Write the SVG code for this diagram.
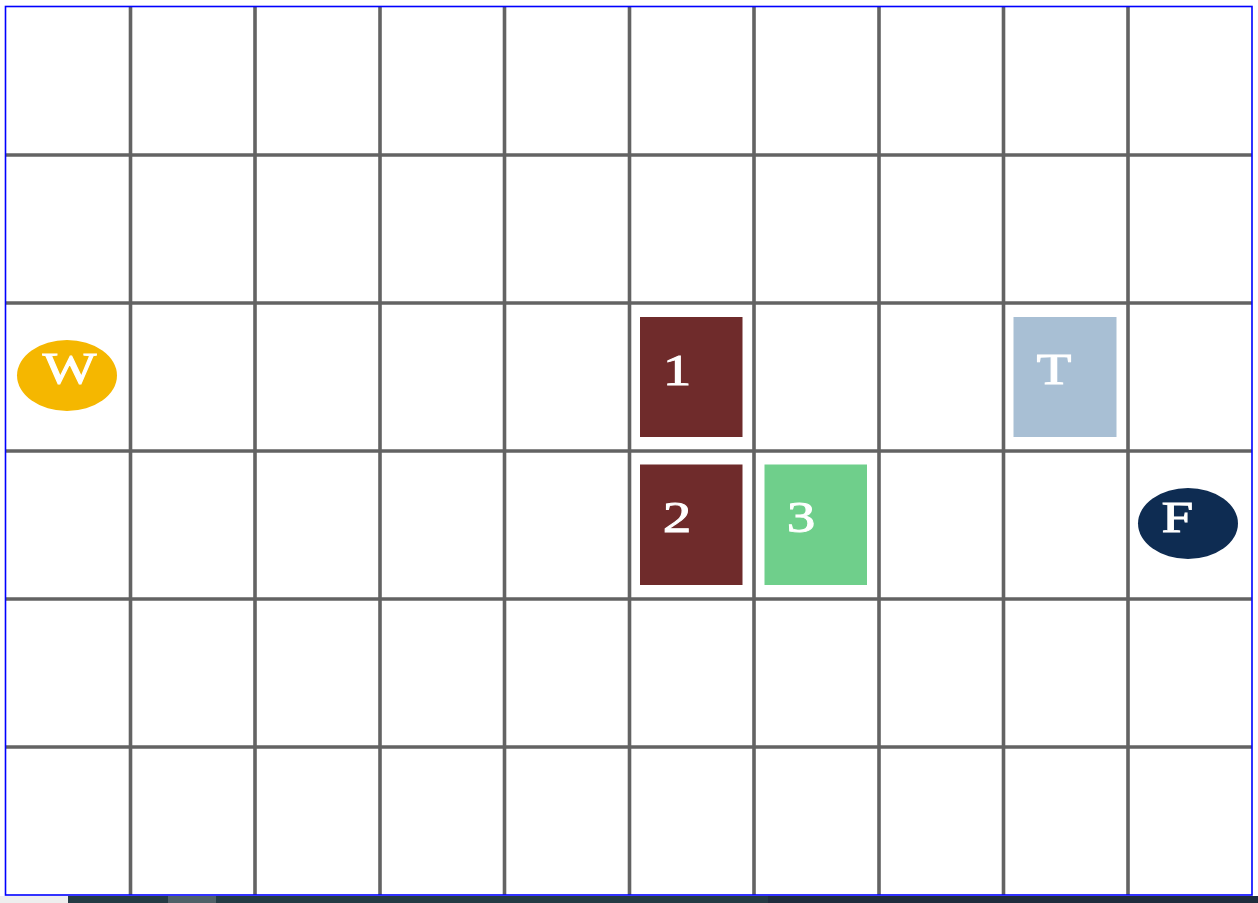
<svg xmlns="http://www.w3.org/2000/svg" width="1258" height="903" viewBox="0 0 1258 903">
<style>
.grid line{stroke:#636363;stroke-width:3.6}
.lbl{font-family:"Liberation Serif","Times New Roman",serif;font-size:44px;fill:#ffffff;stroke:#ffffff;stroke-width:0.9;text-anchor:middle}
.dark{fill:#6f2b2b}
</style>
<rect x="0" y="0" width="1258" height="903" fill="#ffffff"/>
<g id="grid" class="grid">
<line x1="130.5" y1="6" x2="130.5" y2="895"/>
<line x1="255" y1="6" x2="255" y2="895"/>
<line x1="380" y1="6" x2="380" y2="895"/>
<line x1="504.5" y1="6" x2="504.5" y2="895"/>
<line x1="629.5" y1="6" x2="629.5" y2="895"/>
<line x1="754" y1="6" x2="754" y2="895"/>
<line x1="879" y1="6" x2="879" y2="895"/>
<line x1="1003.5" y1="6" x2="1003.5" y2="895"/>
<line x1="1128" y1="6" x2="1128" y2="895"/>
<line x1="6" y1="155" x2="1252" y2="155"/>
<line x1="6" y1="303" x2="1252" y2="303"/>
<line x1="6" y1="451" x2="1252" y2="451"/>
<line x1="6" y1="599" x2="1252" y2="599"/>
<line x1="6" y1="747" x2="1252" y2="747"/>
</g>
<rect x="5.5" y="6.5" width="1246.5" height="888.5" fill="none" stroke="#0000ff" stroke-width="1.6"/>
<g id="node-W">
<ellipse cx="67" cy="375.5" rx="50" ry="35.5" fill="#f5b700"/>
<text class="lbl" transform="translate(69.5,383) scale(1.3,1)">W</text>
</g>
<g id="node-1">
<rect class="dark" x="640" y="317" width="102.5" height="120"/>
<text class="lbl" transform="translate(677,385) scale(1.3,1)">1</text>
</g>
<g id="node-2">
<rect class="dark" x="640" y="464.5" width="102.5" height="120.5"/>
<text class="lbl" transform="translate(677,532) scale(1.3,1)">2</text>
</g>
<g id="node-3">
<rect x="764.5" y="464.5" width="102.5" height="120.5" fill="#6fcf8b"/>
<text class="lbl" transform="translate(801,532) scale(1.3,1)">3</text>
</g>
<g id="node-T">
<rect x="1013.5" y="317" width="103" height="120" fill="#a8bfd4"/>
<text class="lbl" transform="translate(1054,383.5) scale(1.3,1)">T</text>
</g>
<g id="node-F">
<ellipse cx="1188" cy="523.5" rx="50" ry="35.5" fill="#0e2c52"/>
<text class="lbl" transform="translate(1177.5,532) scale(1.3,1)">F</text>
</g>
<g id="connectors"></g>
<g id="bar">
<rect x="0" y="896" width="1258" height="7" fill="#1f2d3d"/>
<rect x="68" y="896" width="700" height="7" fill="#243b44"/>
<rect x="0" y="896" width="68" height="7" fill="#eeeeee"/>
<rect x="168" y="896" width="48" height="7" fill="#4f6168"/>
</g>
</svg>
